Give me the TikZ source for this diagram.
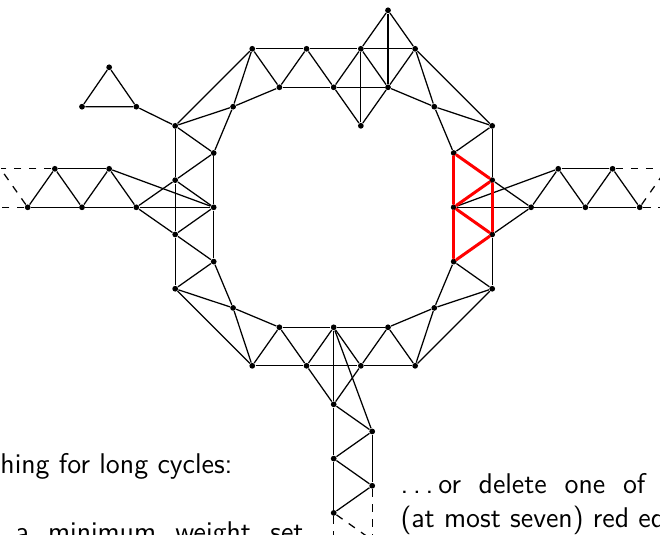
\documentclass[tikz,border=0pt]{standalone}
\usepackage{fontspec}
\begin{document}
\begin{tikzpicture}[x=0.4pt,y=-0.4pt,
  vtx/.style={circle,fill=black,inner sep=0pt,minimum size=2.3pt},
  edge/.style={line width=0.5pt,black},
  rededge/.style={line width=1.2pt,red,line cap=round},
  dashedge/.style={line width=0.5pt,dashed},
  txt/.style={inner sep=0pt,font=\sffamily\fontsize{11.4pt}{13.7pt}\selectfont}]
\useasboundingbox (0,0) rectangle (660,534);
\clip (0,0) rectangle (660,534);
% top
\node[vtx] (t1) at (252.25,48.8) {};
\node[vtx] (t2) at (306.55,48.8) {};
\node[vtx] (t3) at (360.85,48.8) {};
\node[vtx] (t4) at (415.15,48.8) {};
\node[vtx] (u1) at (279.4,87.3) {};
\node[vtx] (u2) at (333.7,87.3) {};
\node[vtx] (u3) at (388.0,87.3) {};
\node[vtx] (tp) at (388.0,10.3) {};
\node[vtx] (tq) at (360.85,125.8) {};
% bottom
\node[vtx] (b1) at (252.25,365.8) {};
\node[vtx] (b2) at (306.55,365.8) {};
\node[vtx] (b3) at (360.85,365.8) {};
\node[vtx] (b4) at (415.15,365.8) {};
\node[vtx] (v1) at (279.4,327.3) {};
\node[vtx] (v2) at (333.7,327.3) {};
\node[vtx] (v3) at (388.0,327.3) {};
\node[vtx] (w0) at (333.7,404.3) {};
\node[vtx] (w1) at (372.2,431.45) {};
\node[vtx] (w2) at (333.7,458.6) {};
\node[vtx] (w3) at (372.2,485.75) {};
\node[vtx] (w4) at (333.7,512.9) {};
\coordinate (w5) at (372.2,540.05);
\coordinate (w6) at (333.7,570);
% left column
\node[vtx] (l1) at (175.2,125.85) {};
\node[vtx] (l2) at (175.2,180.15) {};
\node[vtx] (l3) at (175.2,234.45) {};
\node[vtx] (l4) at (175.2,288.75) {};
\node[vtx] (m1) at (213.7,153.0) {};
\node[vtx] (m2) at (213.7,207.3) {};
\node[vtx] (m3) at (213.7,261.6) {};
% right column
\node[vtx] (r1) at (492.2,125.85) {};
\node[vtx] (r2) at (492.2,180.15) {};
\node[vtx] (r3) at (492.2,234.45) {};
\node[vtx] (r4) at (492.2,288.75) {};
\node[vtx] (n1) at (453.7,153.0) {};
\node[vtx] (n2) at (453.7,207.3) {};
\node[vtx] (n3) at (453.7,261.6) {};
% diagonals
\node[vtx] (dTL) at (233.1,106.7) {};
\node[vtx] (dTR) at (434.3,106.7) {};
\node[vtx] (dBL) at (233.1,307.9) {};
\node[vtx] (dBR) at (434.3,307.9) {};
% left arm
\node[vtx] (la1) at (136.3,207.3) {};
\node[vtx] (la2) at (82.0,207.3) {};
\node[vtx] (la3) at (27.7,207.3) {};
\node[vtx] (lb1) at (109.15,168.8) {};
\node[vtx] (lb2) at (54.85,168.8) {};
\coordinate (lp) at (0.55,168.8);
\coordinate (lq) at (-26.6,207.3);
% right arm
\node[vtx] (ra1) at (531.1,207.3) {};
\node[vtx] (ra2) at (585.4,207.3) {};
\node[vtx] (ra3) at (639.7,207.3) {};
\node[vtx] (rb1) at (558.25,168.8) {};
\node[vtx] (rb2) at (612.55,168.8) {};
\coordinate (rp) at (666.85,168.8);
\coordinate (rq) at (694,207.3);
% small triangle
\node[vtx] (s1) at (109.15,67.3) {};
\node[vtx] (s2) at (82.0,106.7) {};
\node[vtx] (s3) at (136.3,106.7) {};

% edges top
\draw[edge] (t1) -- (t2) -- (t3) -- (t4);
\draw[edge] (u1) -- (u2) -- (u3);
\draw[edge] (t1) -- (u1) -- (t2) -- (u2) -- (t3) -- (u3) -- (t4);
\draw[edge] (tp) -- (t3);
\draw[edge] (tp) -- (t4);
\draw[edge] (tp) -- (u3);
\draw[edge] (tq) -- (u2);
\draw[edge] (tq) -- (u3);
\draw[edge] (tq) -- (t3);
% edges bottom
\draw[edge] (b1) -- (b2) -- (b3) -- (b4);
\draw[edge] (v1) -- (v2) -- (v3);
\draw[edge] (b1) -- (v1) -- (b2) -- (v2) -- (b3) -- (v3) -- (b4);
\draw[edge] (v2) -- (w0);
\draw[edge] (w0) -- (w2);
\draw[edge] (w2) -- (w4);
\draw[edge] (b2) -- (w0);
\draw[edge] (b3) -- (w0);
\draw[edge] (v2) -- (w1);
\draw[edge] (w0) -- (w1);
\draw[edge] (w1) -- (w2);
\draw[edge] (w2) -- (w3);
\draw[edge] (w3) -- (w4);
\draw[edge] (w1) -- (w3);
\draw[dashedge] (w3) -- (w5);
\draw[dashedge] (w4) -- (w5);
\draw[dashedge] (w4) -- (w6);
% left column
\draw[edge] (l1) -- (l2) -- (l3) -- (l4);
\draw[edge] (m1) -- (m2) -- (m3);
\draw[edge] (l1) -- (m1) -- (l2) -- (m2) -- (l3) -- (m3) -- (l4);
% right column
\draw[edge] (r1) -- (r2);
\draw[edge] (r3) -- (r4);
\draw[edge] (r1) -- (n1);
\draw[edge] (n3) -- (r4);
% corners
\draw[edge] (t1) -- (l1);
\draw[edge] (t1) -- (dTL);
\draw[edge] (dTL) -- (u1);
\draw[edge] (l1) -- (dTL);
\draw[edge] (dTL) -- (m1);
\draw[edge] (t4) -- (r1);
\draw[edge] (t4) -- (dTR);
\draw[edge] (u3) -- (dTR);
\draw[edge] (dTR) -- (r1);
\draw[edge] (dTR) -- (n1);
\draw[edge] (l4) -- (b1);
\draw[edge] (l4) -- (dBL);
\draw[edge] (m3) -- (dBL);
\draw[edge] (dBL) -- (b1);
\draw[edge] (dBL) -- (v1);
\draw[edge] (b4) -- (r4);
\draw[edge] (dBR) -- (b4);
\draw[edge] (dBR) -- (v3);
\draw[edge] (dBR) -- (r4);
\draw[edge] (dBR) -- (n3);
% left arm
\draw[edge] (la3) -- (la2) -- (la1) -- (m2);
\draw[edge] (lb2) -- (lb1);
\draw[edge] (la3) -- (lb2) -- (la2) -- (lb1) -- (la1);
\draw[edge] (lb1) -- (m2);
\draw[edge] (la1) -- (l2);
\draw[edge] (la1) -- (l3);
\draw[dashedge] (lb2) -- (lp);
\draw[dashedge] (la3) -- (lp);
\draw[dashedge] (la3) -- (lq);
% small triangle
\draw[edge] (s1) -- (s2) -- (s3) -- (s1);
\draw[edge] (s3) -- (l1);
% right arm
\draw[edge] (n2) -- (ra1) -- (ra2) -- (ra3);
\draw[edge] (rb1) -- (rb2);
\draw[edge] (ra1) -- (rb1) -- (ra2) -- (rb2) -- (ra3);
\draw[edge] (rb1) -- (n2);
\draw[edge] (ra1) -- (r2);
\draw[edge] (ra1) -- (r3);
\draw[dashedge] (rb2) -- (rp);
\draw[dashedge] (ra3) -- (rp);
\draw[dashedge] (ra3) -- (rq);
% red edges
\draw[rededge] (n1) -- (n2);
\draw[rededge] (n2) -- (n3);
\draw[rededge] (r2) -- (r3);
\draw[rededge] (n1) -- (r2);
\draw[rededge] (r2) -- (n2);
\draw[rededge] (n2) -- (r3);
\draw[rededge] (r3) -- (n3);
% text
\node[txt,anchor=base west] (tx1) at (0,473) {hing for long cycles:};
\node[txt,anchor=base west] (tx2) at (15,541) {\makebox[115.2pt][s]{a minimum weight set}};
\node[txt,anchor=base west] (tx3) at (400,493.5) {\makebox[98pt][s]{.\kern.17em.\kern.17em.\kern.17em or delete one of}};
\node[txt,anchor=base west] (tx4) at (400,527.5) {(at most seven) red ed};
\end{tikzpicture}
\end{document}
